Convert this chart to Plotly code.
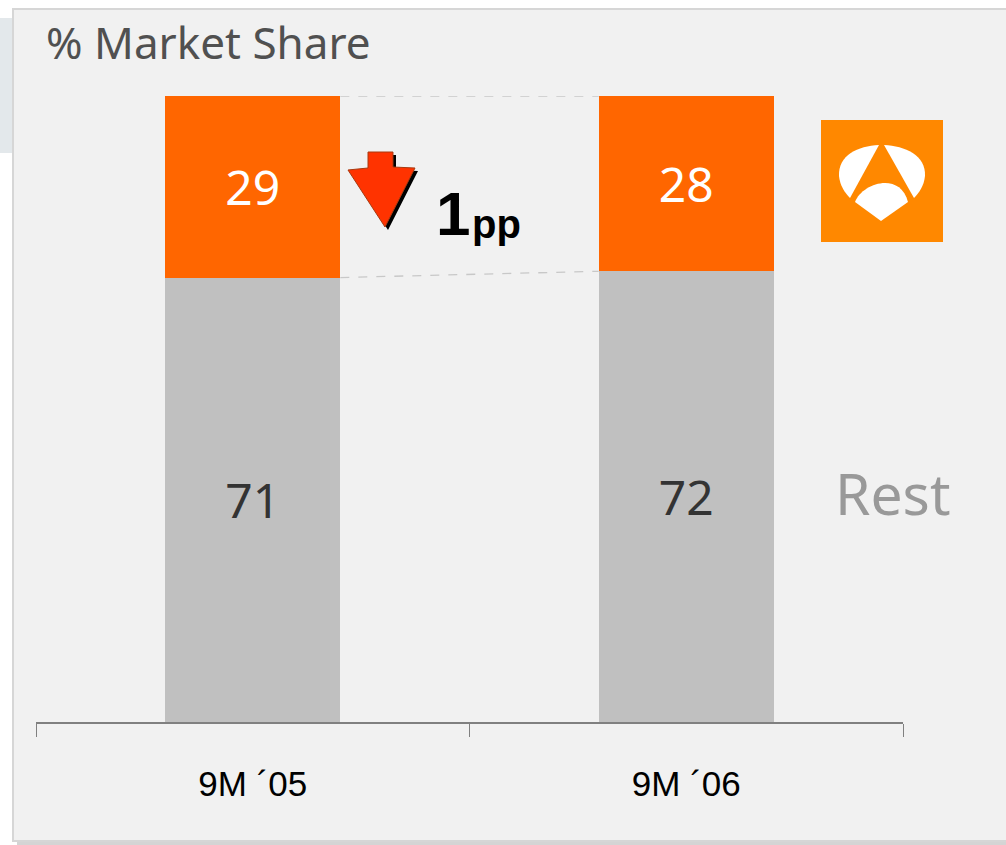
import plotly.graph_objects as go

# ---- data ----
categories = ["9M ´05", "9M ´06"]
antena3_share = [29, 28]
rest_share = [71, 72]
change_label = "1"
change_unit = "pp"
title_text = "% Market Share"
rest_label = "Rest"

W, H = 1006, 845
L, R, T, B = 36, 103, 96, 123
PW, PH = W - L - R, H - T - B


def px(x):
    return (x - L) / PW


def py(y):
    return (H - B - y) / PH


def path(points, close=True):
    s = "M " + " L ".join(f"{px(x):.5f},{py(y):.5f}" for x, y in points)
    return s + (" Z" if close else "")


fig = go.Figure()
fig.add_trace(go.Bar(
    x=categories, y=rest_share, marker=dict(color="#c0c0c0", line=dict(width=0)),
    text=[str(v) for v in rest_share], textposition="inside", insidetextanchor="middle",
    textfont=dict(family="Noto Sans", size=48, color="#333333"), textangle=0,
    hoverinfo="skip", name=rest_label))
fig.add_trace(go.Bar(
    x=categories, y=antena3_share, marker=dict(color="#ff6600", line=dict(width=0)),
    text=[str(v) for v in antena3_share], textposition="inside", insidetextanchor="middle",
    textfont=dict(family="Noto Sans", size=48, color="#ffffff"), textangle=0,
    hoverinfo="skip", name="Antena 3"))

shapes = []
# faint decoration at left
shapes.append(dict(type="rect", xref="paper", yref="paper", x0=px(0), x1=px(14), y0=py(18), y1=py(153),
                   fillcolor="#e3e8eb", line=dict(width=0), layer="below"))
# panel shadow + panel
shapes.append(dict(type="rect", xref="paper", yref="paper", x0=px(17), x1=px(1012), y0=py(13), y1=py(845),
                   fillcolor="#d4d4d4", line=dict(width=0), layer="below"))
shapes.append(dict(type="rect", xref="paper", yref="paper", x0=px(13), x1=px(1010), y0=py(9), y1=py(841),
                   fillcolor="#f1f1f1", line=dict(color="#d6d6d6", width=2), layer="below"))

# dashed connector lines between bars
half = 0.202
for i in range(len(categories) - 1):
    top0 = rest_share[i] + antena3_share[i]
    top1 = rest_share[i + 1] + antena3_share[i + 1]
    shapes.append(dict(type="line", xref="x", yref="y", x0=i + half, x1=i + 1 - half, y0=top0, y1=top1,
                       line=dict(color="#c8c8c8", width=1.3, dash="dash")))
    shapes.append(dict(type="line", xref="x", yref="y", x0=i + half, x1=i + 1 - half,
                       y0=rest_share[i], y1=rest_share[i + 1],
                       line=dict(color="#c8c8c8", width=1.3, dash="dash")))

# down arrow with shadow
arrow = [(368, 152), (393, 152), (393, 167), (415, 168), (385, 227), (348, 170), (368, 168)]
shadow = [(x + 3, y + 3) for x, y in arrow]
shapes.append(dict(type="path", xref="paper", yref="paper", path=path(shadow),
                   fillcolor="#000000", line=dict(width=0)))
shapes.append(dict(type="path", xref="paper", yref="paper", path=path(arrow),
                   fillcolor="#ff3300", line=dict(color="#a83a10", width=1)))

# logo
shapes.append(dict(type="rect", xref="paper", yref="paper", x0=px(821), x1=px(943), y0=py(120), y1=py(242),
                   fillcolor="#ff8800", line=dict(width=0)))


def curve(pts):
    out = []
    for cmd, coords in pts:
        c = " ".join(f"{px(x):.5f},{py(y):.5f}" for x, y in coords)
        out.append(f"{cmd} {c}")
    return " ".join(out) + " Z"


left_petal = curve([("M", [(879, 145)]), ("C", [(858, 146), (838, 155), (839, 176)]),
                    ("C", [(840, 186), (845, 193), (850, 198)]), ("L", [(879, 145)])])
right_petal = curve([("M", [(884, 145)]), ("C", [(905, 146), (926, 155), (925, 176)]),
                     ("C", [(924, 186), (919, 193), (914, 198)]), ("L", [(884, 145)])])
bottom_piece = curve([("M", [(855, 202)]), ("C", [(862, 183), (900, 171), (908, 202)]),
                      ("L", [(881, 221)]), ("L", [(855, 202)])])
for p in (left_petal, right_petal, bottom_piece):
    shapes.append(dict(type="path", xref="paper", yref="paper", path=p,
                       fillcolor="#ffffff", line=dict(width=0)))

annotations = [
    dict(text=title_text, xref="paper", yref="paper", x=px(44), y=py(42), xanchor="left", yanchor="middle",
         showarrow=False, font=dict(family="Noto Sans", size=44, color="#505050")),
    dict(text=f"<b>{change_label}</b>", xref="paper", yref="paper", x=px(434), y=py(213), xanchor="left",
         yanchor="middle", showarrow=False, font=dict(family="Liberation Sans", size=62, color="#000000")),
    dict(text=f"<b>{change_unit}</b>", xref="paper", yref="paper", x=px(470), y=py(224), xanchor="left",
         yanchor="middle", showarrow=False, font=dict(family="Liberation Sans", size=40, color="#000000")),
    dict(text=rest_label, xref="paper", yref="paper", x=px(892), y=py(493), xanchor="center",
         yanchor="middle", showarrow=False, font=dict(family="Noto Sans", size=57, color="#999999")),
]

fig.update_layout(
    width=W, height=H, autosize=False,
    margin=dict(l=L, r=R, t=T, b=B, pad=0),
    paper_bgcolor="#ffffff", plot_bgcolor="rgba(0,0,0,0)",
    barmode="stack", bargap=0.596, showlegend=False,
    shapes=shapes, annotations=annotations,
)
fig.update_xaxes(type="category", categoryorder="array", categoryarray=categories, range=[-0.5, 1.5],
                 tickson="boundaries", ticks="outside", ticklen=13, tickcolor="#808080", tickwidth=1.3,
                 showline=True, linecolor="#808080", linewidth=1.5, showgrid=False, zeroline=False,
                 tickfont=dict(family="Liberation Sans", size=35, color="#000000"), ticklabelstandoff=30,
                 fixedrange=True)
fig.update_yaxes(range=[0, 100], visible=False, showgrid=False, zeroline=False, fixedrange=True)

fig.write_html("out.html", config={"displayModeBar": False},
               post_script="document.body.style.margin='0px';document.body.style.overflow='hidden';")
